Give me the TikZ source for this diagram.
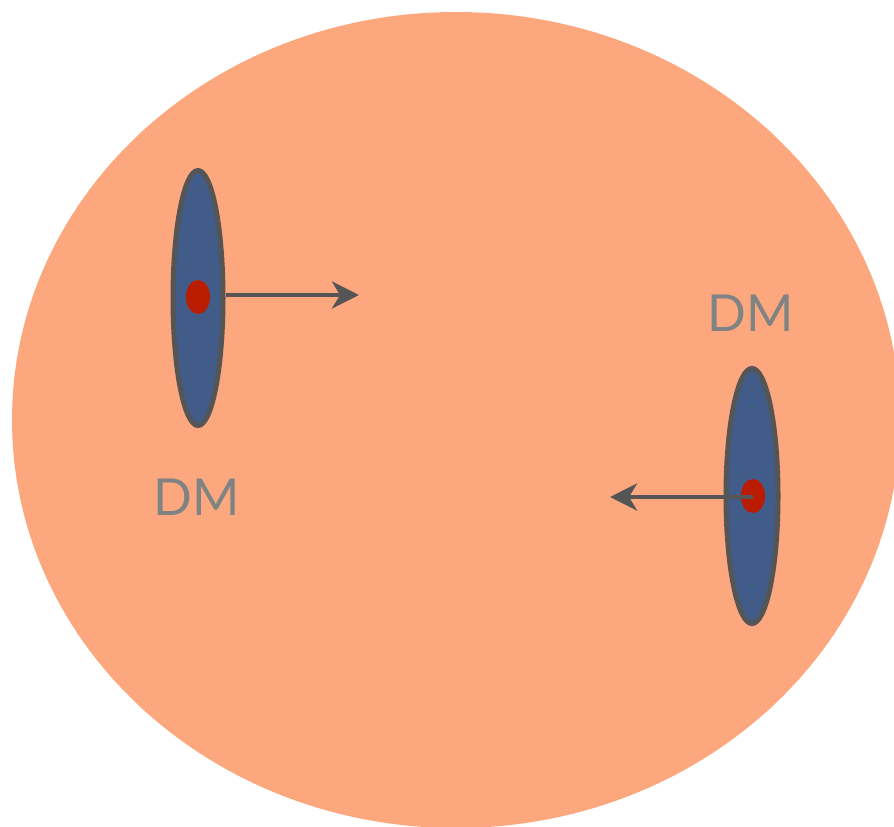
\documentclass[tikz,border=0pt]{standalone}
\usepackage{fontspec}
\setmainfont{Lato}
\usetikzlibrary{arrows.meta,shapes.geometric}
\definecolor{bg}{RGB}{253,167,126}
\definecolor{disc}{RGB}{66,92,138}
\definecolor{rim}{RGB}{85,85,85}
\definecolor{dot}{RGB}{185,28,0}
\definecolor{lab}{RGB}{128,131,131}
\tikzset{
  discbox/.style={ellipse, draw=rim, line width=5pt, fill=disc, minimum width=50pt, minimum height=255pt, inner sep=0pt},
  dotbox/.style={ellipse, fill=dot, minimum width=24pt, minimum height=34pt, inner sep=0pt},
  push/.style={draw=rim, line width=4.5pt, -{Stealth[length=27pt,width=27pt,inset=8pt]}},
  dmlabel/.style={text=lab, font=\fontsize{51}{51}\selectfont, inner sep=0pt}
}
\begin{document}
\begin{tikzpicture}[x=1pt,y=-1pt]
\useasboundingbox (0,0) rectangle (894,827);
\clip (0,0) rectangle (894,827);
\fill[bg] (456,420) ellipse [x radius=444, y radius=408];
\node[discbox] (d1) at (198,298) {};
\node[dotbox] (r1) at (198,297) {};
\coordinate (t1) at (359,295);
\draw[push] (d1.east |- t1) -- (t1);
\node[dmlabel] (l1) at (197,497) {DM};
\node[discbox, minimum width=52pt] (d2) at (752,496) {};
\node[dotbox] (r2) at (753,496) {};
\coordinate (t2) at (610,497);
\draw[push] (r2.center |- t2) -- (t2);
\node[dmlabel] (l2) at (751,313) {DM};
\end{tikzpicture}
\end{document}
